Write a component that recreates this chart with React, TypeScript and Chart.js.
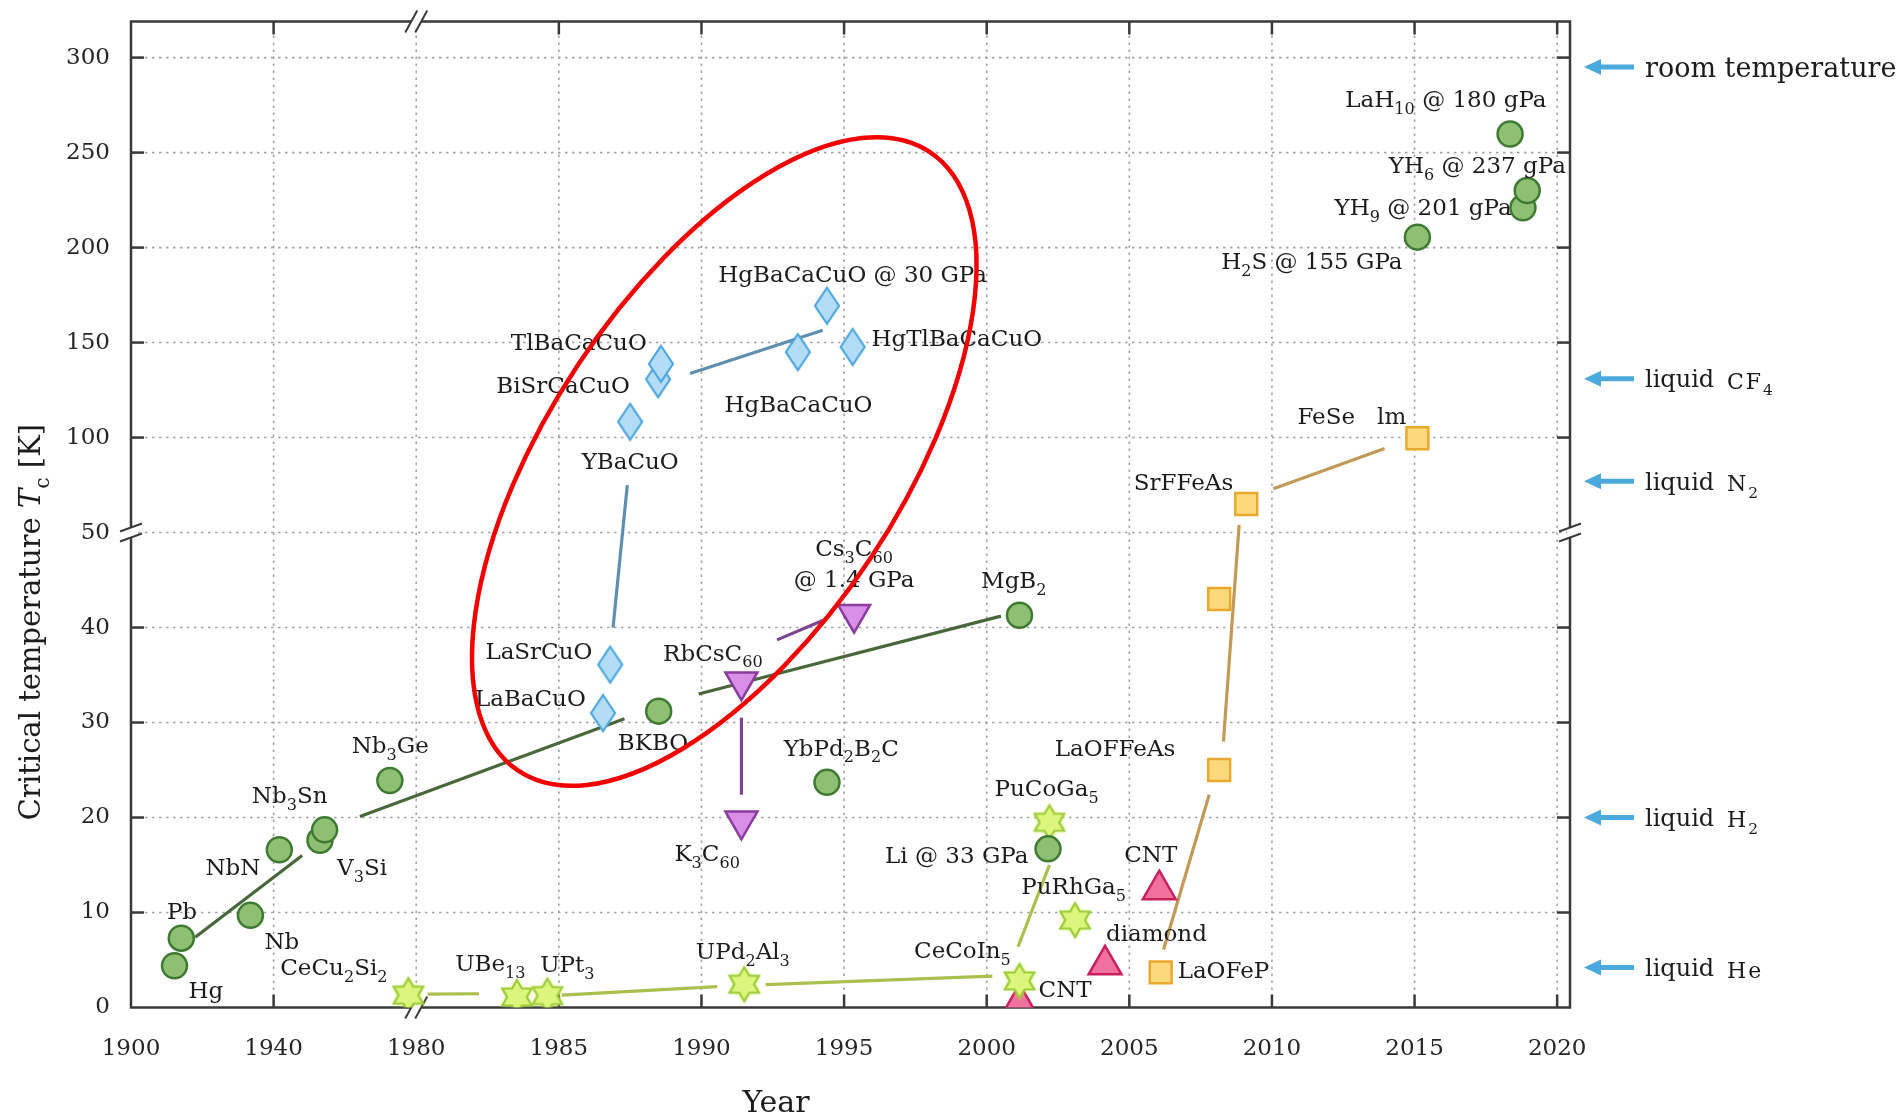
import React, { useEffect, useRef } from 'react';
import { Chart, registerables } from 'chart.js';

Chart.register(...registerables);

// ---------------- data ----------------
const xTickYears = [1900, 1940, 1980, 1985, 1990, 1995, 2000, 2005, 2010, 2015, 2020];
const yTickValues = [0, 10, 20, 30, 40, 50, 100, 150, 200, 250, 300];

// conventional / other (green circles)
const circleNames = ['Hg', 'Pb', 'Nb', 'NbN', 'V3Si', 'Nb3Sn', 'Nb3Ge', 'BKBO', 'YbPd2B2C', 'MgB2', 'Li', 'H2S', 'YH9', 'YH6', 'LaH10'];
const circleYears = [1912.2, 1914.1, 1933.5, 1941.6, 1953.0, 1954.3, 1972.6, 1988.5, 1994.4, 2001.15, 2002.15, 2015.1, 2018.8, 2018.95, 2018.35];
const circleTc = [4.4, 7.3, 9.7, 16.6, 17.6, 18.7, 23.9, 31.2, 23.7, 41.3, 16.7, 205.5, 221, 230, 259.8];

// cuprates (blue diamonds)
const cuprateNames = ['LaBaCuO', 'LaSrCuO', 'YBaCuO', 'BiSrCaCuO', 'TlBaCaCuO', 'HgBaCaCuO', 'HgBaCaCuO 30GPa', 'HgTlBaCaCuO'];
const cuprateYears = [1986.55, 1986.8, 1987.5, 1988.48, 1988.58, 1993.38, 1994.4, 1995.3];
const cuprateTc = [31.0, 36.1, 108.3, 130.7, 138.8, 145, 169.4, 147.7];

// fullerides (purple down triangles)
const fullerideNames = ['RbCsC60', 'K3C60', 'Cs3C60'];
const fullerideYears = [1991.4, 1991.4, 1995.35];
const fullerideTc = [34.3, 19.65, 41.4];

// heavy fermions (stars)
const heavyNames = ['CeCu2Si2', 'UBe13', 'UPt3', 'UPd2Al3', 'CeCoIn5', 'PuCoGa5', 'PuRhGa5'];
const heavyYears = [1977.8, 1983.53, 1984.6, 1991.5, 2001.15, 2002.2, 2003.1];
const heavyTc = [1.3, 1.1, 1.25, 2.45, 2.8, 19.5, 9.2];

// carbon (pink up triangles)
const carbonNames = ['CNT', 'diamond', 'CNT'];
const carbonYears = [2001.15, 2004.15, 2006.05];
const carbonTc = [0.45, 4.5, 12.4];

// iron based (squares)
const ironNames = ['LaOFeP', 'LaOFFeAs', '', 'SrFFeAs', 'FeSe'];
const ironYears = [2006.1, 2008.15, 2008.15, 2009.1, 2015.1];
const ironTc = [3.7, 25.0, 43.0, 65, 99.6];

// trend segments [year1, tc1, year2, tc2]
const darkGreenSegments = [
  [1918.0, 7.4, 1948.0, 16.0],
  [1964.2, 20.1, 1987.3, 30.4],
  [1989.9, 33.0, 2000.5, 41.2],
];
const blueSegments = [
  [1987.4, 75, 1986.9, 40],
  [1989.6, 133.7, 1994.25, 156.5],
];
const purpleSegments = [
  [1992.65, 38.7, 1994.25, 40.75],
  [1991.4, 30.5, 1991.4, 22.4],
];
const oliveSegments = [
  [1980.4, 1.4, 1982.2, 1.45],
  [1985.1, 1.3, 1990.55, 2.2],
  [1992.25, 2.4, 2000.2, 3.3],
  [2001.1, 6.4, 2002.2, 15.0],
];
const tanSegments = [
  [2006.2, 6.1, 2007.8, 22.4],
  [2008.3, 28.0, 2008.85, 54],
  [2010.05, 73, 2013.95, 94.3],
];

// text annotations (anchor in data units: year, Tc)
const labelTexts = [
  'Hg', 'Pb', 'Nb', 'NbN', 'V_{3}Si', 'Nb_{3}Sn', 'Nb_{3}Ge', 'CeCu_{2}Si_{2}', 'UBe_{13}', 'UPt_{3}',
  'UPd_{2}Al_{3}', 'CeCoIn_{5}', 'CNT', 'PuCoGa_{5}', 'Li @ 33 GPa', 'PuRhGa_{5}', 'CNT', 'diamond', 'LaOFeP', 'LaOFFeAs',
  'SrFFeAs', 'FeSe   lm', 'H_{2}S @ 155 GPa', 'YH_{9} @ 201 gPa', 'YH_{6} @ 237 gPa', 'LaH_{10} @ 180 gPa', 'HgBaCaCuO @ 30 GPa', 'TlBaCaCuO', 'BiSrCaCuO', 'HgTlBaCaCuO',
  'HgBaCaCuO', 'YBaCuO', 'LaSrCuO', 'LaBaCuO', 'BKBO', 'RbCsC_{60}', 'Cs_{3}C_{60}', '@ 1.4 GPa', 'K_{3}C_{60}', 'YbPd_{2}B_{2}C',
  'MgB_{2}',
];
const labelYears = [
  1921.0, 1914.3, 1942.3, 1928.6, 1964.8, 1944.5, 1972.7, 1956.9, 1982.6, 1985.3,
  1991.45, 1999.15, 2002.75, 2002.1, 1998.95, 2003.05, 2005.75, 2005.95, 2008.3, 2004.5,
  2006.9, 2012.8, 2011.4, 2015.3, 2017.2, 2016.1, 1995.3, 1985.7, 1985.15, 1998.95,
  1993.4, 1987.5, 1984.3, 1984.0, 1988.3, 1990.4, 1995.35, 1995.35, 1990.2, 1994.9,
  2000.95,
];
const labelTc = [
  1.9, 10.2, 7.0, 14.8, 14.8, 22.4, 27.7, 4.3, 4.7, 4.6,
  6.0, 6.1, 2.0, 23.1, 16.1, 12.8, 16.2, 7.9, 4.0, 27.4,
  76.5, 111.7, 193, 221.5, 243.5, 278.5, 186.5, 150.3, 128, 152.4,
  117.7, 87.8, 37.6, 32.6, 28.0, 37.4, 48.4, 45.1, 16.3, 27.4,
  45.0,
];

// reference temperatures on the right
const refNames = ['room temperature', 'liquid', 'liquid', 'liquid', 'liquid'];
const refFormulas = ['', 'CF_{4}', 'N_{2}', 'H_{2}', 'He'];
const refTc = [295, 131, 77, 20, 4.2];

// highlighted region (ellipse): centre, end of major axis, end of minor axis (year, Tc)
const ellipseCenter = [1990.8, 87.4];
const ellipseMajorEnd = [1998.01, 250.3];
const ellipseMinorEnd = [1995.93, 47.3];

// ---------------- axis transforms (broken axes) ----------------
const tx = (yr: number) => (yr >= 1980 ? yr : 1980 - (1980 - yr) / 8);
const ty = (v: number) => (v <= 50 ? v : 50 + (v - 50) / 5);
const ix = (t: number) => (t >= 1980 ? t : 1980 - (1980 - t) * 8);
const iy = (t: number) => (t <= 50 ? t : 50 + (t - 50) * 5);

const SERIF = '"DejaVu Serif", serif';

type Seg = { t: string; sub: boolean; it?: boolean };
function parseRich(s: string): Seg[] {
  const out: Seg[] = [];
  const re = /_\{([^}]*)\}/g;
  let last = 0;
  let m: RegExpExecArray | null;
  while ((m = re.exec(s))) {
    if (m.index > last) out.push({ t: s.slice(last, m.index), sub: false });
    out.push({ t: m[1], sub: true });
    last = m.index + m[0].length;
  }
  if (last < s.length) out.push({ t: s.slice(last), sub: false });
  return out;
}

function drawSegs(
  ctx: CanvasRenderingContext2D,
  segs: Seg[],
  x: number,
  y: number,
  size: number,
  align: 'center' | 'left',
  color: string,
  spacing = 0
) {
  const subSize = size * 0.7;
  const c: any = ctx;
  const prevSpacing = c.letterSpacing;
  if (spacing) c.letterSpacing = `${spacing}px`;
  const fonts = segs.map((g) => `${g.it ? 'italic ' : ''}${g.sub ? subSize : size}px ${SERIF}`);
  let total = 0;
  const ws = segs.map((g, i) => {
    ctx.font = fonts[i];
    const w = ctx.measureText(g.t).width;
    total += w;
    return w;
  });
  let cx = align === 'center' ? x - total / 2 : x;
  const base = y + size * 0.36;
  ctx.fillStyle = color;
  ctx.textAlign = 'left';
  ctx.textBaseline = 'alphabetic';
  segs.forEach((g, i) => {
    ctx.font = fonts[i];
    ctx.fillText(g.t, cx, g.sub ? base + size * 0.3 : base);
    cx += ws[i];
  });
  if (spacing) c.letterSpacing = prevSpacing || '0px';
  return total;
}

// ---------------- marker images ----------------
function makeStar(R: number, fill: string, stroke: string) {
  const pad = 6;
  const c = document.createElement('canvas');
  c.width = c.height = Math.ceil(2 * R + 2 * pad);
  const g = c.getContext('2d')!;
  const cx = c.width / 2;
  const cy = c.height / 2;
  const r = R / Math.sqrt(3);
  g.beginPath();
  for (let k = 0; k < 12; k++) {
    const ang = -Math.PI / 2 + (k * Math.PI) / 6;
    const rad = k % 2 === 0 ? R : r;
    const px = cx + Math.cos(ang) * rad;
    const py = cy + Math.sin(ang) * rad;
    if (k === 0) g.moveTo(px, py);
    else g.lineTo(px, py);
  }
  g.closePath();
  g.shadowColor = 'rgba(215,245,90,0.9)';
  g.shadowBlur = 5;
  g.fillStyle = fill;
  g.fill();
  g.shadowBlur = 0;
  g.lineWidth = 2.2;
  g.lineJoin = 'miter';
  g.strokeStyle = stroke;
  g.stroke();
  return c;
}

function makeDiamond(w: number, h: number, fill: string, stroke: string) {
  const pad = 3;
  const c = document.createElement('canvas');
  c.width = Math.ceil(w + 2 * pad);
  c.height = Math.ceil(h + 2 * pad);
  const g = c.getContext('2d')!;
  const cx = c.width / 2;
  const cy = c.height / 2;
  g.beginPath();
  g.moveTo(cx, cy - h / 2);
  g.lineTo(cx + w / 2, cy);
  g.lineTo(cx, cy + h / 2);
  g.lineTo(cx - w / 2, cy);
  g.closePath();
  g.fillStyle = fill;
  g.fill();
  g.lineWidth = 2.2;
  g.strokeStyle = stroke;
  g.stroke();
  return c;
}

const pts = (years: number[], tcs: number[]) => years.map((yr, i) => ({ x: tx(yr), y: ty(tcs[i]) }));

function segDatasets(segs: number[][], color: string) {
  return segs.map((s) => ({
    data: [{ x: tx(s[0]), y: ty(s[1]) }, { x: tx(s[2]), y: ty(s[3]) }],
    showLine: true,
    borderColor: color,
    borderWidth: 3.2,
    pointRadius: 0,
    fill: false,
    order: 5,
  }));
}

export default function App() {
  const ref = useRef<HTMLCanvasElement | null>(null);

  useEffect(() => {
    const canvas = ref.current;
    if (!canvas) return;

    const starImg = makeStar(17, '#dcf57c', '#9ccb38');
    const diamondImg = makeDiamond(24, 36, '#b3ddf7', '#4fa7dd');

    const line = (ctx: CanvasRenderingContext2D, x1: number, y1: number, x2: number, y2: number) => {
      ctx.beginPath();
      ctx.moveTo(x1, y1);
      ctx.lineTo(x2, y2);
      ctx.stroke();
    };

    const framePlugin = {
      id: 'framePlugin',
      beforeDatasetsDraw(chart: any) {
        const { ctx, chartArea: a, scales } = chart;
        const xs = scales.x;
        const ys = scales.y;
        ctx.save();
        // dotted grid
        ctx.strokeStyle = '#a3a3a3';
        ctx.lineWidth = 1.6;
        ctx.setLineDash([2.5, 4.5]);
        xTickYears.forEach((yr) => {
          if (yr === 1900) return;
          const px = xs.getPixelForValue(tx(yr));
          line(ctx, px, a.top, px, a.bottom);
        });
        yTickValues.forEach((v) => {
          if (v === 0) return;
          const py = ys.getPixelForValue(ty(v));
          line(ctx, a.left, py, a.right, py);
        });
        ctx.setLineDash([]);
        // frame
        ctx.strokeStyle = '#3a3a3a';
        ctx.lineWidth = 2.5;
        ctx.strokeRect(a.left, a.top, a.right - a.left, a.bottom - a.top);
        // inward ticks
        const tl = 13;
        xTickYears.forEach((yr) => {
          if (yr === 1900 || yr === 1980) return;
          const px = xs.getPixelForValue(tx(yr));
          line(ctx, px, a.bottom, px, a.bottom - tl);
          line(ctx, px, a.top, px, a.top + tl);
        });
        yTickValues.forEach((v) => {
          if (v === 0 || v === 50) return;
          const py = ys.getPixelForValue(ty(v));
          line(ctx, a.left, py, a.left + tl, py);
          line(ctx, a.right, py, a.right - tl, py);
        });
        // axis breaks
        const bx = xs.getPixelForValue(tx(1980));
        const by = ys.getPixelForValue(ty(50));
        ctx.lineWidth = 2;
        [a.top, a.bottom].forEach((yy: number) => {
          ctx.fillStyle = '#ffffff';
          ctx.fillRect(bx - 5, yy - 3, 10, 6);
          [-5, 5].forEach((o) => line(ctx, bx + o - 6, yy + 11, bx + o + 6, yy - 11));
        });
        [a.left, a.right].forEach((xx: number) => {
          ctx.fillStyle = '#ffffff';
          ctx.fillRect(xx - 3, by - 5, 6, 10);
          [-5, 5].forEach((o) => line(ctx, xx - 11, by + o + 4, xx + 11, by + o - 4));
        });
        ctx.restore();
      },
      afterDatasetsDraw(chart: any) {
        const { ctx, scales } = chart;
        const xs = scales.x;
        const ys = scales.y;
        ctx.save();
        labelTexts.forEach((txt, i) => {
          const px = xs.getPixelForValue(tx(labelYears[i]));
          const py = ys.getPixelForValue(ty(labelTc[i]));
          drawSegs(ctx, parseRich(txt), px, py, 23, 'center', '#1c1c1c');
        });
        // ellipse
        const c = { x: xs.getPixelForValue(tx(ellipseCenter[0])), y: ys.getPixelForValue(ty(ellipseCenter[1])) };
        const M = { x: xs.getPixelForValue(tx(ellipseMajorEnd[0])), y: ys.getPixelForValue(ty(ellipseMajorEnd[1])) };
        const N = { x: xs.getPixelForValue(tx(ellipseMinorEnd[0])), y: ys.getPixelForValue(ty(ellipseMinorEnd[1])) };
        const ra = Math.hypot(M.x - c.x, M.y - c.y);
        const rb = Math.hypot(N.x - c.x, N.y - c.y);
        const rot = Math.atan2(M.y - c.y, M.x - c.x);
        ctx.beginPath();
        ctx.ellipse(c.x, c.y, ra, rb, rot, 0, Math.PI * 2);
        ctx.strokeStyle = '#f20000';
        ctx.lineWidth = 4.5;
        ctx.stroke();
        ctx.restore();
      },
      afterDraw(chart: any) {
        const { ctx, chartArea: a, scales } = chart;
        const ys = scales.y;
        ctx.save();
        // reference temperatures
        refNames.forEach((name, i) => {
          const py = ys.getPixelForValue(ty(refTc[i]));
          const tip = a.right + 14;
          ctx.fillStyle = '#4ba9dd';
          ctx.strokeStyle = '#4ba9dd';
          ctx.beginPath();
          ctx.moveTo(tip, py);
          ctx.lineTo(tip + 17, py - 8);
          ctx.lineTo(tip + 17, py + 8);
          ctx.closePath();
          ctx.fill();
          ctx.lineWidth = 5;
          line(ctx, tip + 12, py, tip + 50, py);
          const textX = a.right + 75;
          if (refFormulas[i]) {
            drawSegs(ctx, [{ t: name, sub: false }], textX, py, 24, 'left', '#1c1c1c');
            drawSegs(ctx, parseRich(refFormulas[i]), textX + 82, py + 2, 22, 'left', '#1c1c1c', 2);
          } else {
            drawSegs(ctx, [{ t: name, sub: false }], textX, py, 27, 'left', '#1c1c1c');
          }
        });
        // axis titles
        ctx.save();
        ctx.translate(30, 622);
        ctx.rotate(-Math.PI / 2);
        drawSegs(
          ctx,
          [
            { t: 'Critical temperature ', sub: false },
            { t: 'T', sub: false, it: true },
            { t: 'c', sub: true },
            { t: ' [K]', sub: false },
          ],
          0,
          0,
          29,
          'center',
          '#1c1c1c'
        );
        ctx.restore();
        drawSegs(ctx, [{ t: 'Year', sub: false }], 776, 1101, 30, 'center', '#1c1c1c');
        ctx.restore();
      },
    };

    const datasets: any[] = [
      {
        label: 'circles',
        data: pts(circleYears, circleTc),
        pointStyle: 'circle',
        pointRadius: 12.5,
        backgroundColor: '#8fbf72',
        borderColor: '#3f7a32',
        borderWidth: 2.5,
        order: 1,
      },
      {
        label: 'cuprates',
        data: pts(cuprateYears, cuprateTc),
        pointStyle: diamondImg,
        pointRadius: 10,
        order: 1,
      },
      {
        label: 'fullerides',
        data: pts(fullerideYears, fullerideTc),
        pointStyle: 'triangle',
        rotation: 180,
        pointRadius: 18.5,
        backgroundColor: '#da8fe7',
        borderColor: '#8b3d9c',
        borderWidth: 2.5,
        order: 1,
      },
      {
        label: 'heavy fermions',
        data: pts(heavyYears, heavyTc),
        pointStyle: starImg,
        pointRadius: 10,
        order: 1,
      },
      {
        label: 'carbon',
        data: pts(carbonYears, carbonTc),
        pointStyle: 'triangle',
        pointRadius: 19,
        backgroundColor: '#f0719d',
        borderColor: '#c8205e',
        borderWidth: 2.5,
        order: 1,
      },
      {
        label: 'iron',
        data: pts(ironYears, ironTc),
        pointStyle: 'rect',
        pointRadius: 15.5,
        backgroundColor: '#fcd97c',
        borderColor: '#e9a92e',
        borderWidth: 2.5,
        order: 1,
      },
      ...segDatasets(darkGreenSegments, '#48683b'),
      ...segDatasets(blueSegments, '#5e8fae'),
      ...segDatasets(purpleSegments, '#7d4590'),
      ...segDatasets(oliveSegments, '#a9c04e'),
      ...segDatasets(tanSegments, '#c29a58'),
    ];

    const tickFont = { family: 'DejaVu Serif', size: 23 };

    const chart = new Chart(canvas, {
      type: 'scatter',
      data: { datasets },
      options: {
        responsive: false,
        animation: false,
        devicePixelRatio: 1,
        layout: { padding: { left: 0, right: 331, top: 19, bottom: 0 } },
        plugins: { legend: { display: false }, tooltip: { enabled: false } },
        scales: {
          x: {
            type: 'linear',
            min: 1970,
            max: 2020.45,
            grid: { display: false },
            border: { display: false },
            afterBuildTicks: (s: any) => {
              s.ticks = xTickYears.map((yr) => ({ value: tx(yr) }));
            },
            afterFit: (s: any) => {
              s.height = 112.5;
              s.paddingLeft = 0;
              s.paddingRight = 0;
            },
            ticks: {
              callback: (v: any) => String(Math.round(ix(Number(v)))),
              font: tickFont,
              color: '#262626',
              padding: 20,
              maxRotation: 0,
              minRotation: 0,
              autoSkip: false,
            },
          },
          y: {
            type: 'linear',
            min: 0,
            max: 103.8,
            grid: { display: false },
            border: { display: false },
            afterBuildTicks: (s: any) => {
              s.ticks = yTickValues.map((v) => ({ value: ty(v) }));
            },
            afterFit: (s: any) => {
              s.width = 131;
              s.paddingTop = 0;
              s.paddingBottom = 0;
            },
            ticks: {
              callback: (v: any) => String(Math.round(iy(Number(v)))),
              font: tickFont,
              color: '#262626',
              padding: 13,
              autoSkip: false,
            },
          },
        },
      } as any,
      plugins: [framePlugin],
    });

    return () => chart.destroy();
  }, []);

  return (
    <div style={{ position: 'fixed', left: 0, top: 0, width: 1901, height: 1120, background: '#ffffff' }}>
      <canvas ref={ref} width={1901} height={1120} style={{ width: 1901, height: 1120, display: 'block' }} />
    </div>
  );
}
